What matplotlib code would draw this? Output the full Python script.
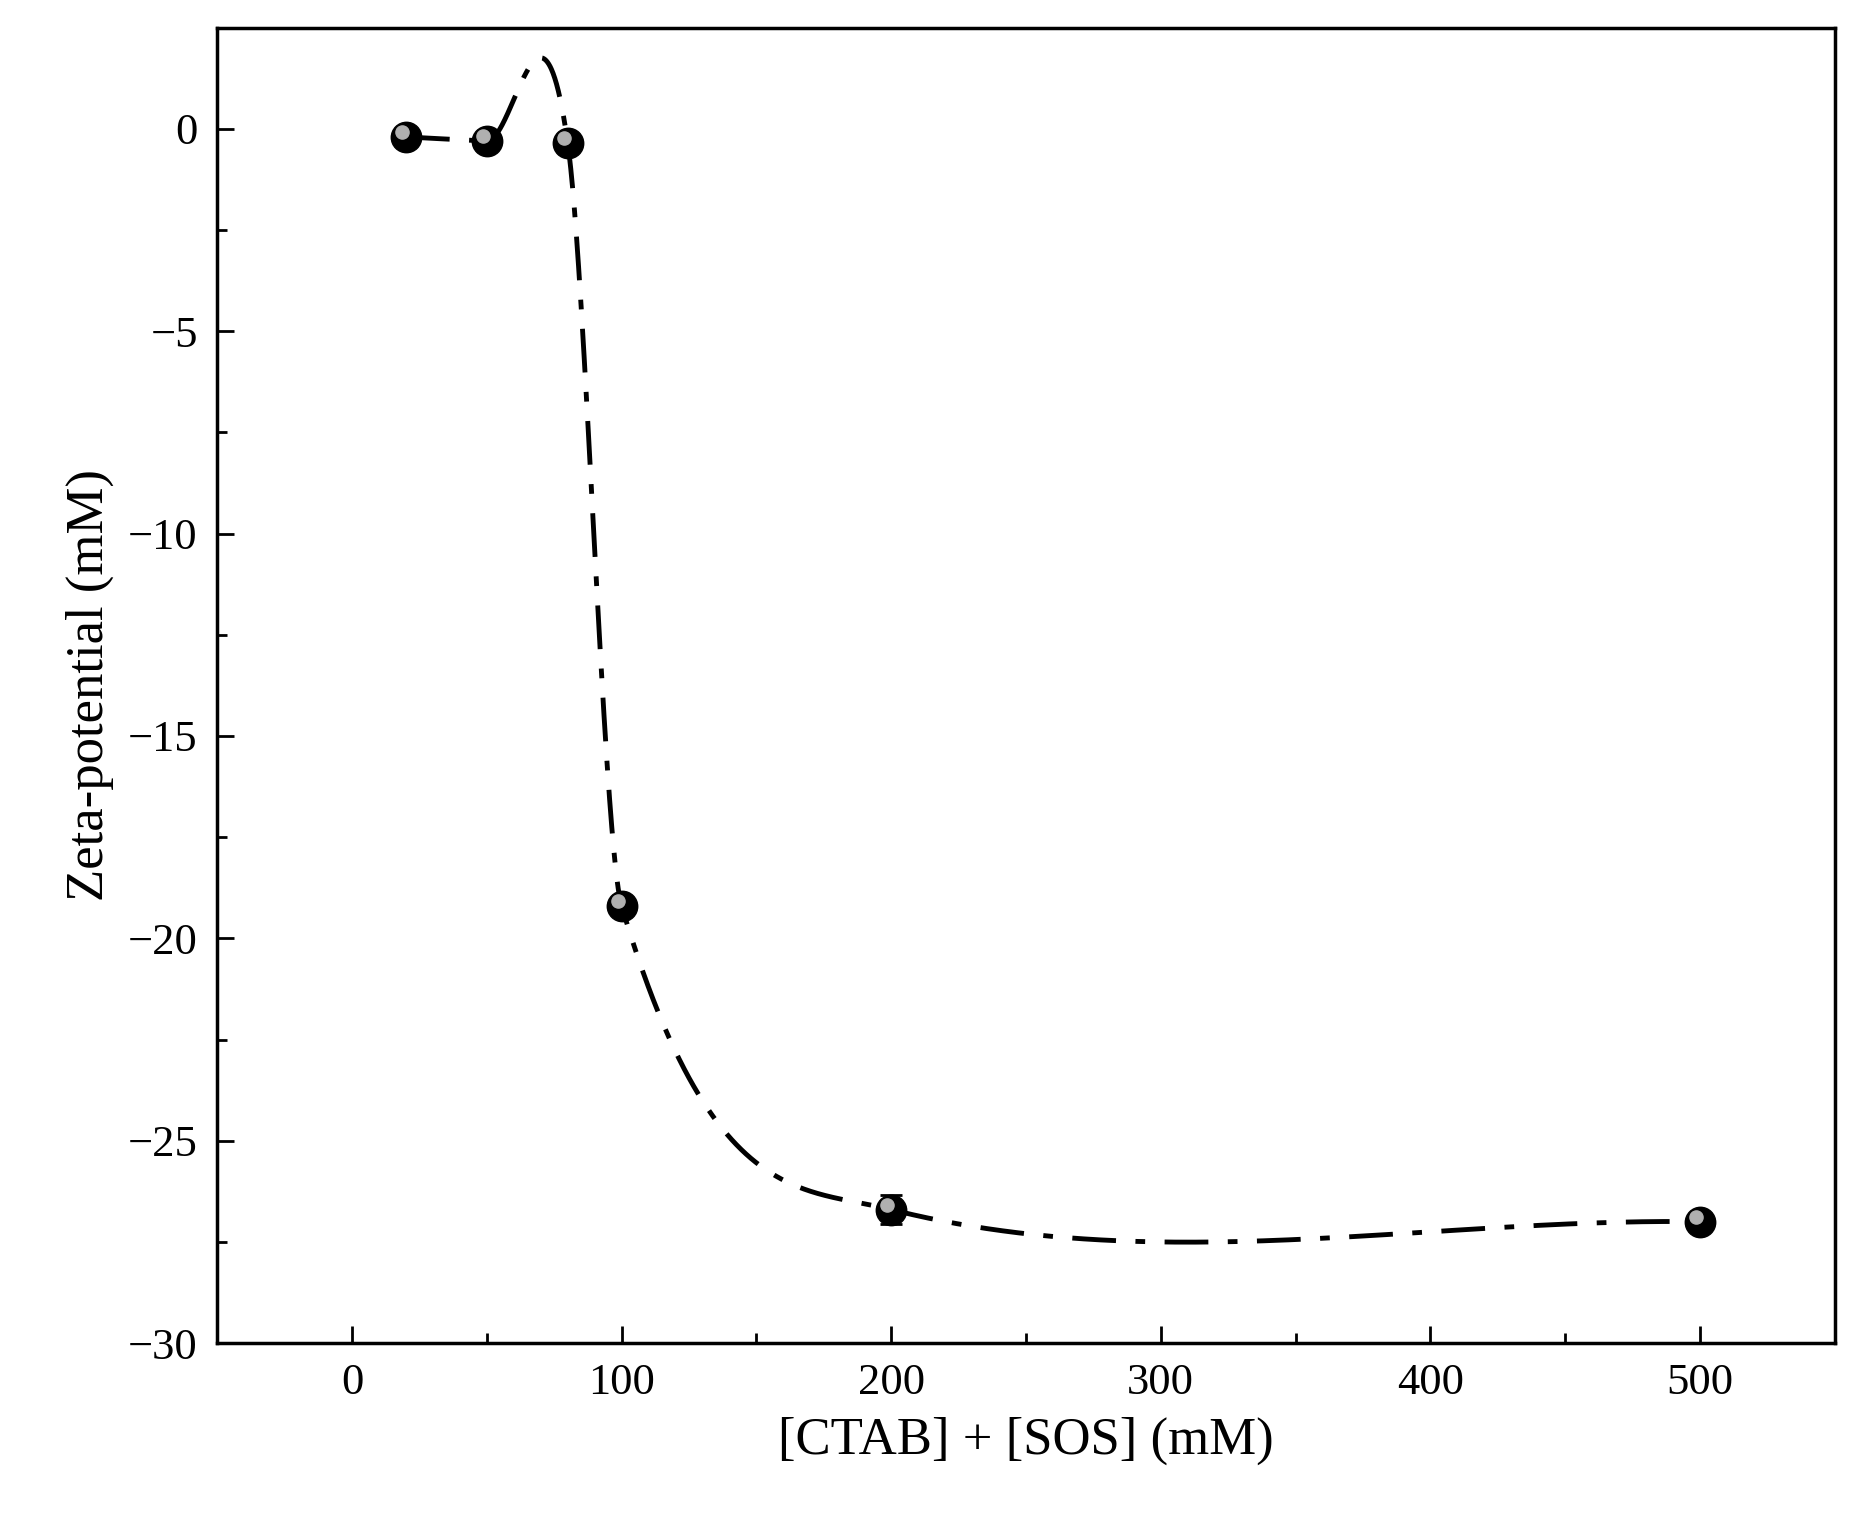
import numpy as np
import matplotlib
matplotlib.use("Agg")
import matplotlib.pyplot as plt
from matplotlib.ticker import MultipleLocator

conc = [20, 50, 80, 100, 200, 500]
zeta = [-0.2, -0.3, -0.35, -19.2, -26.7, -27.0]
err = [0.1, 0.15, 0.1, 0.2, 0.35, 0.2]


def smooth_curve(x, y, xs):
    # cubic hermite with finite-difference tangents, limited on big steps
    x = np.asarray(x, float)
    y = np.asarray(y, float)
    d = np.diff(y) / np.diff(x)
    m = np.empty_like(y)
    m[0], m[-1] = d[0], d[-1]
    m[1:-1] = (d[:-1] + d[1:]) / 2
    for i in range(len(d)):
        if abs(y[i + 1] - y[i]) > 1:
            a, b = m[i] / d[i], m[i + 1] / d[i]
            r = a * a + b * b
            if r > 9:
                t = 3 / np.sqrt(r)
                m[i], m[i + 1] = t * a * d[i], t * b * d[i]
    out = np.empty_like(xs)
    for k, xv in enumerate(xs):
        i = int(np.clip(np.searchsorted(x, xv) - 1, 0, len(x) - 2))
        h = x[i + 1] - x[i]
        t = (xv - x[i]) / h
        out[k] = ((2 * t**3 - 3 * t**2 + 1) * y[i] + (t**3 - 2 * t**2 + t) * h * m[i]
                  + (-2 * t**3 + 3 * t**2) * y[i + 1] + (t**3 - t**2) * h * m[i + 1])
    return out


plt.rcParams['font.family'] = ['Liberation Serif', 'DejaVu Serif']

fig = plt.figure(figsize=(18.57, 15.35), dpi=100)
ax = fig.add_axes([0.117, 0.125, 0.871, 0.857])

xs = np.linspace(conc[0], conc[-1], 3000)
ax.plot(xs, smooth_curve(conc, zeta, xs), color='black', lw=3.5,
        dashes=(9, 4, 2, 4), zorder=2)
ax.errorbar(conc, zeta, yerr=err, fmt='none', ecolor='black', capsize=8,
            elinewidth=2, capthick=2, zorder=3)
ax.scatter(conc, zeta, s=480, color='black', zorder=4)
ax.scatter(np.array(conc) - 1.5, np.array(zeta) + 0.12, s=90, color='#b0b0b0', zorder=5)

ax.set_xlim(-50, 550)
ax.set_ylim(-30, 2.5)
ax.xaxis.set_major_locator(MultipleLocator(100))
ax.xaxis.set_minor_locator(MultipleLocator(50))
ax.yaxis.set_major_locator(MultipleLocator(5))
ax.yaxis.set_minor_locator(MultipleLocator(2.5))
ax.tick_params(which='both', direction='in', width=2, labelsize=32, pad=14)
ax.tick_params(which='major', length=12)
ax.tick_params(which='minor', length=7)
for s in ax.spines.values():
    s.set_linewidth(2.5)
ax.set_xlabel('[CTAB] + [SOS] (mM)', fontsize=38, labelpad=10)
ax.set_ylabel('Zeta-potential (mM)', fontsize=38, labelpad=10)

fig.savefig('out.png')
